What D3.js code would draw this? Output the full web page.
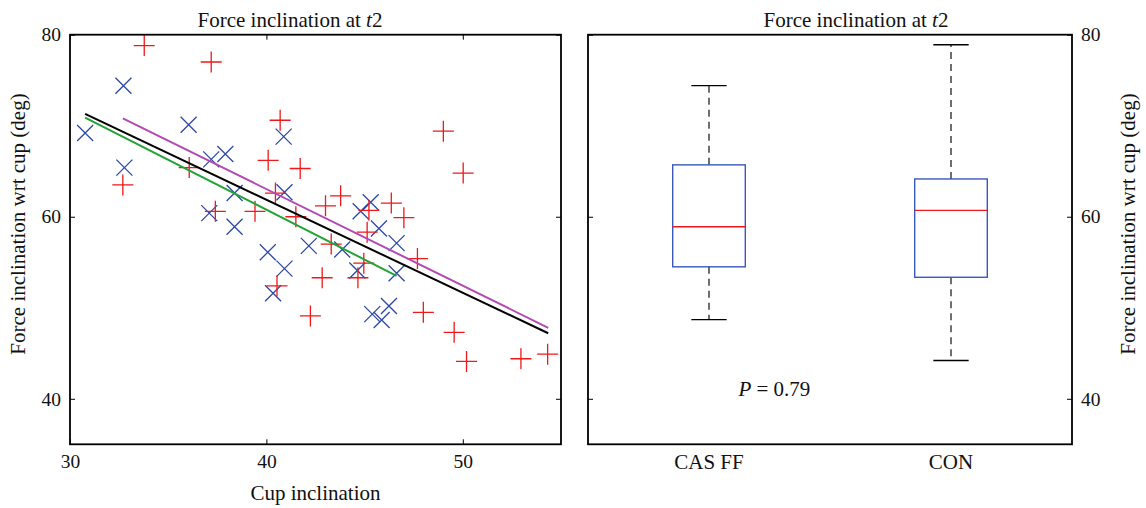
<!DOCTYPE html>
<html><head><meta charset="utf-8">
<script src="https://cdn.jsdelivr.net/npm/d3@7"></script>
<style>
body{margin:0;background:#fff;}
text{font-family:"Liberation Serif","DejaVu Serif",serif;fill:#111;}
</style></head>
<body><svg id="c" width="1146" height="508"></svg>
<script>
// ---- data ----
const conX = [33.78,37.19,40.70,40.09,41.72,36.07,32.69,40.46,37.40,39.42,41.50,40.54,42.24,49.01,50.02,43.78,43.01,45.22,46.36,47.00,45.13,43.30,47.69,44.96,44.66,42.84,47.99,49.56,50.19,52.96,54.32];
const conY = [78.8,77.0,70.6,66.2,65.3,65.4,63.5,62.6,60.6,60.6,60.0,52.4,49.1,69.4,64.8,62.3,61.2,60.7,61.5,59.9,58.3,57.0,55.4,54.9,53.3,53.3,49.5,47.3,44.1,44.4,44.9];
const casX = [32.72,30.77,36.04,40.88,32.77,37.19,37.91,38.38,40.92,37.09,38.38,42.16,40.07,40.92,40.34,45.31,44.80,45.73,43.86,46.63,44.63,46.63,46.24,45.39,45.87];
const casY = [74.4,69.2,70.1,68.8,65.4,66.3,66.9,62.6,62.7,60.4,58.9,56.8,56.1,54.3,51.6,61.6,60.6,58.7,56.4,57.1,54.1,53.8,50.2,49.3,48.65];
// regression fit lines: [x start, x end], [y start, y end]
const fitAllX = [30.77,54.35], fitAllY = [71.3,47.2];
const fitConX = [32.69,54.35], fitConY = [70.8,47.8];
const fitCasX = [30.77,46.63], fitCasY = [70.9,53.5];
// boxplot
const groups = ["CAS FF","CON"];
const boxLow = [48.7,44.2];
const boxQ1 = [54.5,53.35];
const boxMed = [58.9,60.7];
const boxQ3 = [65.7,64.15];
const boxHigh = [74.4,78.9];
const xTicks = [30,40,50];
const yTicks = [40,60,80];
const titleText = "Force inclination at ";
const yLabel = "Force inclination wrt cup (deg)";
const xLabel = "Cup inclination";
const pText = "0.79";

const svg = d3.select("#c");
const pTop = 34.7, pBot = 444.3;
const y = d3.scaleLinear().domain([35,80]).range([pBot, pTop]);
const L = {x0:70, x1:561}, R = {x0:588, x1:1072};
const x = d3.scaleLinear().domain([30,55]).range([L.x0, L.x1]);
const xb = d3.scaleLinear().domain([0.5,2.5]).range([R.x0, R.x1]);
const FS = 21, TFS = 19.5;

function title(cx){
  const t = svg.append("text").attr("x",cx).attr("y",27).attr("text-anchor","middle").attr("font-size",FS);
  t.append("tspan").text(titleText);
  t.append("tspan").attr("font-style","italic").text("t");
  t.append("tspan").text("2");
}

// ---- left plot ----
const gl = svg.append("g");
const red = "#f01818", blue = "#2c48a8";
const conPts = d3.range(conX.length).map(i=>[conX[i],conY[i]]);
const casPts = d3.range(casX.length).map(i=>[casX[i],casY[i]]);
gl.selectAll(".cas").data(casPts).join("path")
  .attr("d",d=>{const cx=x(d[0]),cy=y(d[1]),s=8;return `M${cx-s},${cy-s}L${cx+s},${cy+s}M${cx-s},${cy+s}L${cx+s},${cy-s}`;})
  .attr("stroke",blue).attr("stroke-width",1.3).attr("fill","none");
gl.selectAll(".con").data(conPts).join("path")
  .attr("d",d=>{const cx=x(d[0]),cy=y(d[1]),s=10.5;return `M${cx-s},${cy}L${cx+s},${cy}M${cx},${cy-s}L${cx},${cy+s}`;})
  .attr("stroke",red).attr("stroke-width",1.3).attr("fill","none");
const line = d3.line().x(d=>x(d[0])).y(d=>y(d[1]));
[[fitConX,fitConY,"#b24ab2"],[fitCasX,fitCasY,"#23a236"],[fitAllX,fitAllY,"#000"]].forEach(([fx,fy,c])=>{
  gl.append("path").datum(fx.map((v,i)=>[v,fy[i]])).attr("d",line)
    .attr("stroke",c).attr("stroke-width",2).attr("fill","none");
});
function frame(g,x0,x1){
  g.append("rect").attr("x",x0).attr("y",pTop).attr("width",x1-x0).attr("height",pBot-pTop)
   .attr("fill","none").attr("stroke","#000").attr("stroke-width",1.8);
}
function styleText(a){a.select(".domain").remove();a.selectAll("text").attr("font-size",TFS).attr("font-family","Liberation Serif").attr("fill","#111");}
frame(gl,L.x0,L.x1);
gl.append("g").attr("transform",`translate(0,${pBot})`).call(d3.axisBottom(x).tickValues(xTicks).tickSizeInner(-5).tickSizeOuter(0).tickPadding(10)).call(styleText);
gl.append("g").attr("transform",`translate(0,${pTop})`).call(d3.axisTop(x).tickValues(xTicks).tickSizeInner(-5).tickSizeOuter(0).tickFormat("")).call(styleText);
gl.append("g").attr("transform",`translate(${L.x0},0)`).call(d3.axisLeft(y).tickValues(yTicks).tickSizeInner(-5).tickSizeOuter(0).tickPadding(9)).call(styleText);
gl.append("g").attr("transform",`translate(${L.x1},0)`).call(d3.axisRight(y).tickValues(yTicks).tickSizeInner(-5).tickSizeOuter(0).tickFormat("")).call(styleText);
title(290);
svg.append("text").attr("x",(L.x0+L.x1)/2).attr("y",500).attr("text-anchor","middle").attr("font-size",FS).text(xLabel);
svg.append("text").attr("transform",`translate(25,224) rotate(-90)`).attr("text-anchor","middle").attr("font-size",FS).text(yLabel);

// ---- right plot ----
const gr = svg.append("g");
frame(gr,R.x0,R.x1);
gr.append("g").attr("transform",`translate(${R.x0},0)`).call(d3.axisLeft(y).tickValues(yTicks).tickSizeInner(-5).tickSizeOuter(0).tickFormat("")).call(styleText);
gr.append("g").attr("transform",`translate(${R.x1},0)`).call(d3.axisRight(y).tickValues(yTicks).tickSizeInner(-5).tickSizeOuter(0).tickPadding(9)).call(styleText);
title(856);
svg.append("text").attr("transform",`translate(1135,224) rotate(-90)`).attr("text-anchor","middle").attr("font-size",FS).text(yLabel);
const bw = 0.15, cw = 0.073;
groups.forEach((gname,i)=>{
  const c = i+1;
  const bg = gr.append("g");
  bg.append("line").attr("x1",xb(c)).attr("x2",xb(c)).attr("y1",y(boxQ3[i])).attr("y2",y(boxHigh[i]))
    .attr("stroke","#222").attr("stroke-width",1.3).attr("stroke-dasharray","7,5");
  bg.append("line").attr("x1",xb(c)).attr("x2",xb(c)).attr("y1",y(boxQ1[i])).attr("y2",y(boxLow[i]))
    .attr("stroke","#222").attr("stroke-width",1.3).attr("stroke-dasharray","7,5");
  [boxHigh[i],boxLow[i]].forEach(v=>bg.append("line").attr("x1",xb(c-cw)).attr("x2",xb(c+cw)).attr("y1",y(v)).attr("y2",y(v)).attr("stroke","#000").attr("stroke-width",1.4));
  bg.append("rect").attr("x",xb(c-bw)).attr("width",xb(c+bw)-xb(c-bw)).attr("y",y(boxQ3[i])).attr("height",y(boxQ1[i])-y(boxQ3[i]))
    .attr("fill","none").attr("stroke","#3a58b8").attr("stroke-width",1.4);
  bg.append("line").attr("x1",xb(c-bw)).attr("x2",xb(c+bw)).attr("y1",y(boxMed[i])).attr("y2",y(boxMed[i])).attr("stroke","#f01818").attr("stroke-width",1.4);
  svg.append("text").attr("x",xb(c)).attr("y",469).attr("text-anchor","middle").attr("font-size",FS).text(gname);
});
const pt = svg.append("text").attr("x",xb(1.27)).attr("y",396).attr("text-anchor","middle").attr("font-size",FS);
pt.append("tspan").attr("font-style","italic").text("P");
pt.append("tspan").text(" = "+pText);
</script></body></html>
